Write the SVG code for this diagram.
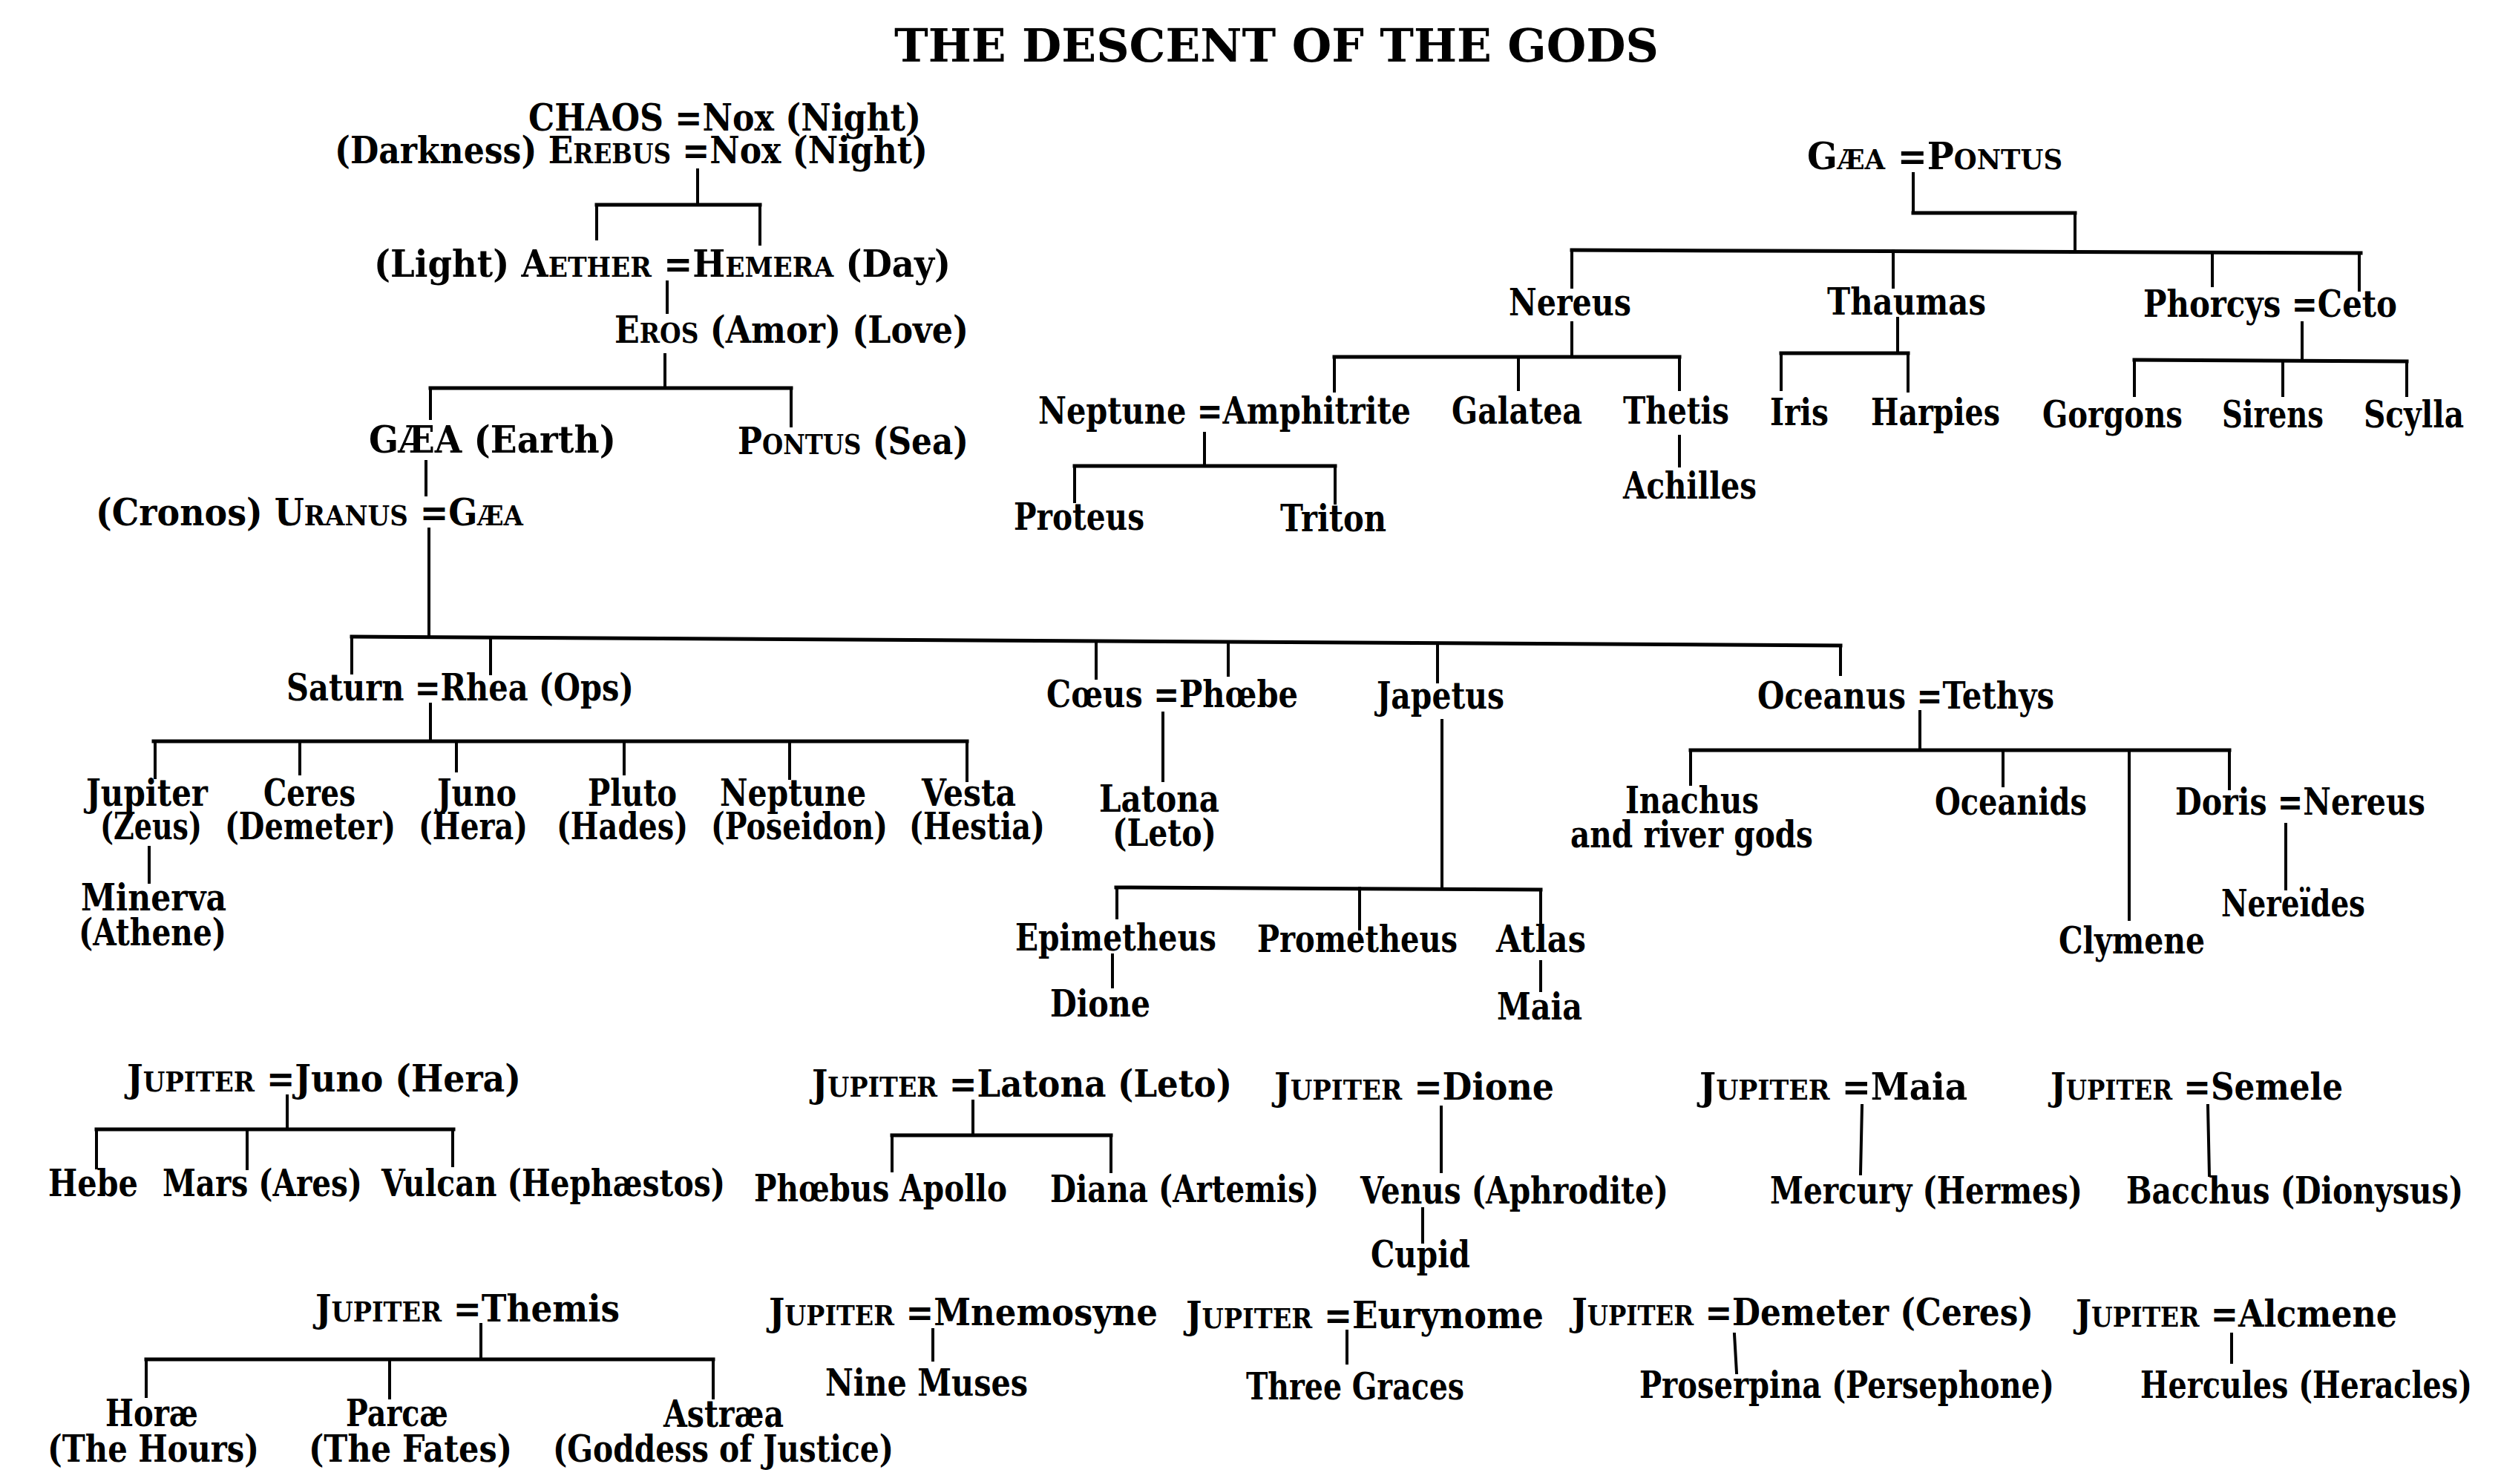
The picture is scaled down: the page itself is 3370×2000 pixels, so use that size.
<svg xmlns="http://www.w3.org/2000/svg" width="3370" height="2000" viewBox="0 0 3370 2000">
<style>
text{font-family:'DejaVu Serif','Liberation Serif',serif;font-weight:bold;font-size:50px;fill:#000}
.sc{font-size:37px}
.title{font-size:62px}
#connectors path{fill:none;stroke:#000;stroke-width:4;stroke-linecap:square}
#connectors path.h{stroke-width:5}
</style>
<rect width="3370" height="2000" fill="#fff"/>
<text class="title" x="1205" y="83" textLength="1030" lengthAdjust="spacingAndGlyphs">THE DESCENT OF THE GODS</text>

<g id="connectors">
<path d="M940,229V276M899,380V421M896,478V522M574,622V667M578,713V858"/>
<path class="h" d="M804,276H1024M580,523H1066M474,858L2480,870"/>
<path d="M804,276V322M1024,276V329M580,523V564M1066,523V574"/>
<path d="M474,858V907M661,859V908M1477,866V914M1655,867V910M1937,868V919M2480,870V909"/>
<path d="M580,949V999M209,999V1048M404,999V1043M615,999V1039M841,999V1043M1064,999V1049M1303,999V1052M201,1142V1189"/>
<path class="h" d="M207,999H1303"/>
<path d="M1567,961V1052M1943,971V1197M1505,1196V1237M1832,1197V1252M2076,1199V1245M1499,1287V1330M2076,1296V1335"/>
<path class="h" d="M1504,1196L2076,1199"/>
<path d="M2587,959V1011M2278,1011V1057M2699,1011V1059M2869,1011V1239M3004,1011V1063M3080,1111V1198"/>
<path class="h" d="M2278,1011H3004"/>
<path d="M2578,234V287M2796,287V336M2118,337V387M2551,338V387M2981,340V385M3179,341V391"/>
<path class="h" d="M2578,287H2796M2118,337L3181,341"/>
<path d="M2118,435V478M1798,481V527M2046,481V525M2263,481V525M2557,429V476M2400,476V525M2571,476V527M3102,435V485M2876,485V533M3076,486V533M3243,487V533"/>
<path class="h" d="M1798,481H2263M2400,476H2571M2876,485L3243,487"/>
<path d="M1623,584V628M1448,628V676M1799,628V678M2263,588V628"/>
<path class="h" d="M1448,628H1799"/>
<path d="M387,1477V1522M130,1522V1574M333,1522V1575M610,1522V1571M648,1785V1832M197,1832V1882M525,1832V1884M961,1832V1884"/>
<path class="h" d="M130,1522H611M197,1832H961"/>
<path d="M1311,1484V1530M1202,1530V1578M1497,1530V1579M1942,1492V1579M1917,1629V1674M1257,1792V1833M1815,1794V1837"/>
<path class="h" d="M1202,1530H1497"/>
<path d="M2509,1490L2507,1582M2975,1490L2977,1584M2337,1798L2340,1850M3007,1798V1836"/>
</g>

<g id="n-chaos"><text x="712" y="176" textLength="529" lengthAdjust="spacingAndGlyphs">CHAOS =Nox (Night)</text></g>
<g id="n-erebus"><text x="451" y="220" textLength="799" lengthAdjust="spacingAndGlyphs">(Darkness) E<tspan class="sc">REBUS</tspan> =Nox (Night)</text></g>
<g id="n-aether"><text x="504" y="373" textLength="777" lengthAdjust="spacingAndGlyphs">(Light) A<tspan class="sc">ETHER</tspan> =H<tspan class="sc">EMERA</tspan> (Day)</text></g>
<g id="n-eros"><text x="828" y="462" textLength="477" lengthAdjust="spacingAndGlyphs">E<tspan class="sc">ROS</tspan> (Amor) (Love)</text></g>
<g id="n-gaea-earth"><text x="497" y="610" textLength="333" lengthAdjust="spacingAndGlyphs">GÆA (Earth)</text></g>
<g id="n-pontus-sea"><text x="994" y="612" textLength="311" lengthAdjust="spacingAndGlyphs">P<tspan class="sc">ONTUS</tspan> (Sea)</text></g>
<g id="n-uranus"><text x="129" y="708" textLength="576" lengthAdjust="spacingAndGlyphs">(Cronos) U<tspan class="sc">RANUS</tspan> =G<tspan class="sc">ÆA</tspan></text></g>

<g id="n-saturn"><text x="386" y="944" textLength="468" lengthAdjust="spacingAndGlyphs">Saturn =Rhea (Ops)</text></g>
<g id="n-jupiter"><text x="116" y="1086" textLength="164" lengthAdjust="spacingAndGlyphs">Jupiter</text><text x="135" y="1131" textLength="137" lengthAdjust="spacingAndGlyphs">(Zeus)</text></g>
<g id="n-ceres"><text x="355" y="1086" textLength="124" lengthAdjust="spacingAndGlyphs">Ceres</text><text x="303" y="1131" textLength="230" lengthAdjust="spacingAndGlyphs">(Demeter)</text></g>
<g id="n-juno"><text x="589" y="1086" textLength="107" lengthAdjust="spacingAndGlyphs">Juno</text><text x="564" y="1131" textLength="147" lengthAdjust="spacingAndGlyphs">(Hera)</text></g>
<g id="n-pluto"><text x="792" y="1086" textLength="120" lengthAdjust="spacingAndGlyphs">Pluto</text><text x="750" y="1131" textLength="177" lengthAdjust="spacingAndGlyphs">(Hades)</text></g>
<g id="n-neptune"><text x="970" y="1086" textLength="197" lengthAdjust="spacingAndGlyphs">Neptune</text><text x="958" y="1131" textLength="238" lengthAdjust="spacingAndGlyphs">(Poseidon)</text></g>
<g id="n-vesta"><text x="1242" y="1086" textLength="127" lengthAdjust="spacingAndGlyphs">Vesta</text><text x="1225" y="1131" textLength="183" lengthAdjust="spacingAndGlyphs">(Hestia)</text></g>
<g id="n-minerva"><text x="109" y="1227" textLength="196" lengthAdjust="spacingAndGlyphs">Minerva</text><text x="106" y="1274" textLength="199" lengthAdjust="spacingAndGlyphs">(Athene)</text></g>

<g id="n-coeus"><text x="1410" y="953" textLength="339" lengthAdjust="spacingAndGlyphs">Cœus =Phœbe</text></g>
<g id="n-latona"><text x="1481" y="1094" textLength="162" lengthAdjust="spacingAndGlyphs">Latona</text><text x="1499" y="1140" textLength="140" lengthAdjust="spacingAndGlyphs">(Leto)</text></g>
<g id="n-japetus"><text x="1855" y="955" textLength="172" lengthAdjust="spacingAndGlyphs">Japetus</text></g>
<g id="n-epimetheus"><text x="1368" y="1281" textLength="271" lengthAdjust="spacingAndGlyphs">Epimetheus</text></g>
<g id="n-prometheus"><text x="1694" y="1283" textLength="270" lengthAdjust="spacingAndGlyphs">Prometheus</text></g>
<g id="n-atlas"><text x="2016" y="1283" textLength="121" lengthAdjust="spacingAndGlyphs">Atlas</text></g>
<g id="n-dione"><text x="1415" y="1370" textLength="135" lengthAdjust="spacingAndGlyphs">Dione</text></g>
<g id="n-maia"><text x="2017" y="1374" textLength="115" lengthAdjust="spacingAndGlyphs">Maia</text></g>

<g id="n-oceanus"><text x="2368" y="955" textLength="400" lengthAdjust="spacingAndGlyphs">Oceanus =Tethys</text></g>
<g id="n-inachus"><text x="2190" y="1096" textLength="180" lengthAdjust="spacingAndGlyphs">Inachus</text><text x="2116" y="1142" textLength="327" lengthAdjust="spacingAndGlyphs">and river gods</text></g>
<g id="n-oceanids"><text x="2607" y="1098" textLength="205" lengthAdjust="spacingAndGlyphs">Oceanids</text></g>
<g id="n-doris"><text x="2931" y="1098" textLength="337" lengthAdjust="spacingAndGlyphs">Doris =Nereus</text></g>
<g id="n-nereides"><text x="2993" y="1235" textLength="194" lengthAdjust="spacingAndGlyphs">Nereïdes</text></g>
<g id="n-clymene"><text x="2774" y="1285" textLength="197" lengthAdjust="spacingAndGlyphs">Clymene</text></g>

<g id="n-gaea-pontus"><text x="2435" y="228" textLength="344" lengthAdjust="spacingAndGlyphs">G<tspan class="sc">ÆA</tspan> =P<tspan class="sc">ONTUS</tspan></text></g>
<g id="n-nereus"><text x="2033" y="425" textLength="165" lengthAdjust="spacingAndGlyphs">Nereus</text></g>
<g id="n-thaumas"><text x="2462" y="424" textLength="214" lengthAdjust="spacingAndGlyphs">Thaumas</text></g>
<g id="n-phorcys"><text x="2888" y="427" textLength="342" lengthAdjust="spacingAndGlyphs">Phorcys =Ceto</text></g>
<g id="n-neptune-amphitrite"><text x="1399" y="571" textLength="502" lengthAdjust="spacingAndGlyphs">Neptune =Amphitrite</text></g>
<g id="n-galatea"><text x="1956" y="571" textLength="176" lengthAdjust="spacingAndGlyphs">Galatea</text></g>
<g id="n-thetis"><text x="2187" y="571" textLength="143" lengthAdjust="spacingAndGlyphs">Thetis</text></g>
<g id="n-iris"><text x="2385" y="573" textLength="79" lengthAdjust="spacingAndGlyphs">Iris</text></g>
<g id="n-harpies"><text x="2521" y="573" textLength="174" lengthAdjust="spacingAndGlyphs">Harpies</text></g>
<g id="n-gorgons"><text x="2752" y="576" textLength="189" lengthAdjust="spacingAndGlyphs">Gorgons</text></g>
<g id="n-sirens"><text x="2994" y="576" textLength="137" lengthAdjust="spacingAndGlyphs">Sirens</text></g>
<g id="n-scylla"><text x="3185" y="576" textLength="135" lengthAdjust="spacingAndGlyphs">Scylla</text></g>
<g id="n-proteus"><text x="1366" y="714" textLength="176" lengthAdjust="spacingAndGlyphs">Proteus</text></g>
<g id="n-triton"><text x="1725" y="716" textLength="143" lengthAdjust="spacingAndGlyphs">Triton</text></g>
<g id="n-achilles"><text x="2187" y="672" textLength="180" lengthAdjust="spacingAndGlyphs">Achilles</text></g>

<g id="n-jupiter-juno"><text x="171" y="1471" textLength="531" lengthAdjust="spacingAndGlyphs">J<tspan class="sc">UPITER</tspan> =Juno  (Hera)</text></g>
<g id="n-hebe"><text x="65" y="1612" textLength="121" lengthAdjust="spacingAndGlyphs">Hebe</text></g>
<g id="n-mars"><text x="219" y="1612" textLength="269" lengthAdjust="spacingAndGlyphs">Mars (Ares)</text></g>
<g id="n-vulcan"><text x="514" y="1612" textLength="463" lengthAdjust="spacingAndGlyphs">Vulcan (Hephæstos)</text></g>

<g id="n-jupiter-themis"><text x="425" y="1781" textLength="410" lengthAdjust="spacingAndGlyphs">J<tspan class="sc">UPITER</tspan> =Themis</text></g>
<g id="n-horae"><text x="142" y="1922" textLength="125" lengthAdjust="spacingAndGlyphs">Horæ</text><text x="64" y="1970" textLength="285" lengthAdjust="spacingAndGlyphs">(The Hours)</text></g>
<g id="n-parcae"><text x="466" y="1922" textLength="138" lengthAdjust="spacingAndGlyphs">Parcæ</text><text x="416" y="1970" textLength="274" lengthAdjust="spacingAndGlyphs">(The Fates)</text></g>
<g id="n-astraea"><text x="894" y="1923" textLength="162" lengthAdjust="spacingAndGlyphs">Astræa</text><text x="745" y="1970" textLength="459" lengthAdjust="spacingAndGlyphs">(Goddess of Justice)</text></g>

<g id="n-jupiter-latona"><text x="1094" y="1478" textLength="566" lengthAdjust="spacingAndGlyphs">J<tspan class="sc">UPITER</tspan> =Latona (Leto)</text></g>
<g id="n-apollo"><text x="1016" y="1619" textLength="341" lengthAdjust="spacingAndGlyphs">Phœbus Apollo</text></g>
<g id="n-diana"><text x="1415" y="1620" textLength="362" lengthAdjust="spacingAndGlyphs">Diana (Artemis)</text></g>
<g id="n-jupiter-dione"><text x="1717" y="1482" textLength="377" lengthAdjust="spacingAndGlyphs">J<tspan class="sc">UPITER</tspan> =Dione</text></g>
<g id="n-venus"><text x="1833" y="1622" textLength="415" lengthAdjust="spacingAndGlyphs">Venus (Aphrodite)</text></g>
<g id="n-cupid"><text x="1847" y="1708" textLength="134" lengthAdjust="spacingAndGlyphs">Cupid</text></g>
<g id="n-jupiter-mnemosyne"><text x="1036" y="1786" textLength="524" lengthAdjust="spacingAndGlyphs">J<tspan class="sc">UPITER</tspan> =Mnemosyne</text></g>
<g id="n-muses"><text x="1112" y="1881" textLength="273" lengthAdjust="spacingAndGlyphs">Nine Muses</text></g>
<g id="n-jupiter-eurynome"><text x="1598" y="1790" textLength="482" lengthAdjust="spacingAndGlyphs">J<tspan class="sc">UPITER</tspan> =Eurynome</text></g>
<g id="n-graces"><text x="1679" y="1886" textLength="294" lengthAdjust="spacingAndGlyphs">Three Graces</text></g>

<g id="n-jupiter-maia"><text x="2290" y="1482" textLength="361" lengthAdjust="spacingAndGlyphs">J<tspan class="sc">UPITER</tspan> =Maia</text></g>
<g id="n-mercury"><text x="2385" y="1622" textLength="421" lengthAdjust="spacingAndGlyphs">Mercury (Hermes)</text></g>
<g id="n-jupiter-semele"><text x="2763" y="1482" textLength="394" lengthAdjust="spacingAndGlyphs">J<tspan class="sc">UPITER</tspan> =Semele</text></g>
<g id="n-bacchus"><text x="2865" y="1622" textLength="454" lengthAdjust="spacingAndGlyphs">Bacchus (Dionysus)</text></g>
<g id="n-jupiter-demeter"><text x="2118" y="1786" textLength="622" lengthAdjust="spacingAndGlyphs">J<tspan class="sc">UPITER</tspan> =Demeter (Ceres)</text></g>
<g id="n-proserpina"><text x="2209" y="1884" textLength="559" lengthAdjust="spacingAndGlyphs">Proserpina (Persephone)</text></g>
<g id="n-jupiter-alcmene"><text x="2797" y="1788" textLength="433" lengthAdjust="spacingAndGlyphs">J<tspan class="sc">UPITER</tspan> =Alcmene</text></g>
<g id="n-hercules"><text x="2884" y="1884" textLength="447" lengthAdjust="spacingAndGlyphs">Hercules (Heracles)</text></g>
</svg>
